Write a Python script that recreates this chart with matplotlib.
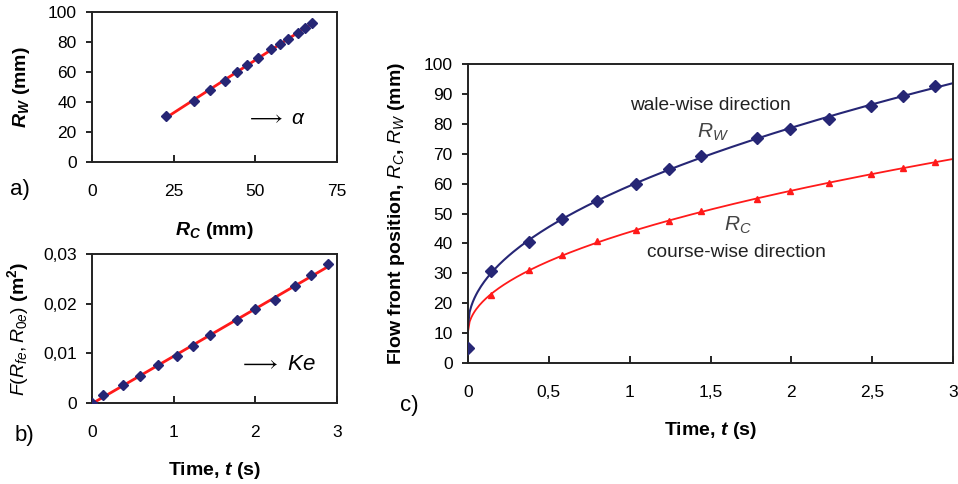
import numpy as np
import matplotlib
matplotlib.use("Agg")
import matplotlib.pyplot as plt

plt.rcParams['font.family'] = ['Liberation Sans', 'DejaVu Sans']
plt.rcParams['mathtext.fontset'] = 'custom'
plt.rcParams['mathtext.rm'] = 'Liberation Sans'
plt.rcParams['mathtext.it'] = 'Liberation Sans:italic'
plt.rcParams['mathtext.bf'] = 'Liberation Sans:bold'
plt.rcParams['mathtext.bfit'] = 'Liberation Sans:italic:bold'

time_s = [0, 0.145, 0.38, 0.58, 0.80, 1.04, 1.245, 1.44, 1.79, 1.99, 2.23, 2.49, 2.69, 2.89]
r_wale = [5.0, 30.8, 40.4, 48.2, 54.2, 59.9, 64.8, 69.2, 75.4, 78.4, 81.7, 86.1, 89.3, 92.6]
r_course = [5.0, 22.7, 31.1, 36.1, 40.8, 44.5, 47.5, 50.8, 54.7, 57.6, 60.1, 63.1, 65.1, 67.2]
f_time = [0, 0.14, 0.385, 0.585, 0.806, 1.046, 1.24, 1.44, 1.78, 1.99, 2.24, 2.49, 2.68, 2.89]
f_val = [0, 0.0016, 0.00355, 0.0055, 0.0076, 0.0094, 0.0114, 0.0137, 0.0167, 0.0189,
         0.0208, 0.0236, 0.0257, 0.0279]

navy = '#262675'
red = '#ff1a1a'
W, H = 958, 484
LAB = 14


def box(l, t, r, b):
    return [l / W, (H - b) / H, (r - l) / W, (b - t) / H]


def style(ax):
    for s in ax.spines.values():
        s.set_linewidth(1.4)
        s.set_color('#222222')
    ax.tick_params(axis='x', direction='in', length=5, width=1.2, pad=16, labelsize=12.5,
                   top=False)
    ax.tick_params(axis='y', direction='out', length=4, width=1.2, pad=7, labelsize=12.5,
                   right=False)


def comma(v, pos):
    s = ('%g' % v).replace('.', ',')
    return s


fig = plt.figure(figsize=(W / 100, H / 100), dpi=100)

# a) Rw vs Rc
rc = np.array(r_course[1:])
rw = np.array(r_wale[1:])
axa = fig.add_axes(box(92, 12, 337, 162))
k, c0 = np.polyfit(rc, rw, 1)
xx = np.array([rc.min(), rc.max()])
axa.plot(xx, k * xx + c0, color=red, lw=2, zorder=2)
axa.plot(rc, rw, 'D', color=navy, ms=5.5, zorder=3)
axa.set_xlim(0, 75)
axa.set_ylim(0, 100)
axa.set_xticks([0, 25, 50, 75])
axa.set_yticks(range(0, 101, 20))
style(axa)
axa.set_xlabel(r'$\mathbfit{R}_\mathbfit{C}$ (mm)', fontsize=LAB, fontweight='bold')
axa.xaxis.set_label_coords(0.5, -0.385)
axa.set_ylabel(r'$\mathbfit{R}_\mathbfit{W}$ (mm)', fontsize=LAB, fontweight='bold')
axa.yaxis.set_label_coords(-0.245, 0.5)
axa.text(0.63, 0.29, r'$\longrightarrow$ $\alpha$', transform=axa.transAxes, fontsize=15,
         va='center')
fig.text(10 / W, 1 - 190 / H, 'a)', fontsize=16, va='center')

# b) F vs time
axb = fig.add_axes(box(92, 254, 337, 403))
ft = np.array(f_time)
fv = np.array(f_val)
kb, cb = np.polyfit(ft, fv, 1)
xb = np.array([0, ft.max()])
axb.plot(xb, kb * xb + cb, color=red, lw=2, zorder=2)
axb.plot(ft, fv, 'D', color=navy, ms=5.5, zorder=3)
axb.set_xlim(0, 3)
axb.set_ylim(0, 0.03)
axb.set_xticks([0, 1, 2, 3])
axb.set_yticks([0, 0.01, 0.02, 0.03])
axb.yaxis.set_major_formatter(plt.FuncFormatter(comma))
style(axb)
axb.set_xlabel(r'Time, $\mathbfit{t}$ (s)', fontsize=LAB, fontweight='bold')
axb.xaxis.set_label_coords(0.5, -0.38)
axb.set_ylabel(r'$F(R_{fe},R_{0e})$ (m$^\mathbf{2}$)', fontsize=LAB, fontweight='bold')
axb.yaxis.set_label_coords(-0.25, 0.5)
axb.text(0.6, 0.26, r'$\longrightarrow$ $Ke$', transform=axb.transAxes, fontsize=16,
         va='center')
fig.text(15 / W, 1 - 436 / H, 'b)', fontsize=16, va='center')

# c) flow front position vs time
axc = fig.add_axes(box(468, 64, 953, 363))
t = np.array(time_s)
tt = np.linspace(0, 3, 300)
pw = np.polyfit(np.sqrt(t[1:]), np.array(r_wale[1:]), 1)
pc = np.polyfit(np.sqrt(t[1:]), np.array(r_course[1:]), 1)
axc.plot(tt, np.polyval(pc, np.sqrt(tt)), color=red, lw=1.3, zorder=2)
axc.plot(tt, np.polyval(pw, np.sqrt(tt)), color=navy, lw=1.5, zorder=2)
axc.plot(t, r_course, '^', color=red, ms=4.5, zorder=3)
axc.plot(t, r_wale, 'D', color=navy, ms=6, zorder=4)
axc.set_xlim(0, 3)
axc.set_ylim(0, 100)
axc.set_xticks([0, 0.5, 1, 1.5, 2, 2.5, 3])
axc.set_yticks(range(0, 101, 10))
axc.xaxis.set_major_formatter(plt.FuncFormatter(comma))
style(axc)
axc.set_xlabel(r'Time, $\mathbfit{t}$ (s)', fontsize=LAB, fontweight='bold')
axc.xaxis.set_label_coords(0.5, -0.19)
axc.set_ylabel(r'Flow front position, $R_C$, $R_W$ (mm)', fontsize=LAB, fontweight='bold')
axc.yaxis.set_label_coords(-0.126, 0.5)
axc.text(0.335, 0.86, 'wale-wise direction', transform=axc.transAxes, fontsize=13.8,
         color='#222222', va='center')
axc.text(0.472, 0.77, r'$R_W$', transform=axc.transAxes, fontsize=15,
         color='#444444', va='center')
axc.text(0.527, 0.46, r'$R_C$', transform=axc.transAxes, fontsize=15,
         color='#444444', va='center')
axc.text(0.37, 0.37, 'course-wise direction', transform=axc.transAxes, fontsize=13.8,
         color='#222222', va='center')
fig.text(400 / W, 1 - 406 / H, 'c)', fontsize=16, va='center')

fig.savefig('out.png', dpi=100)
